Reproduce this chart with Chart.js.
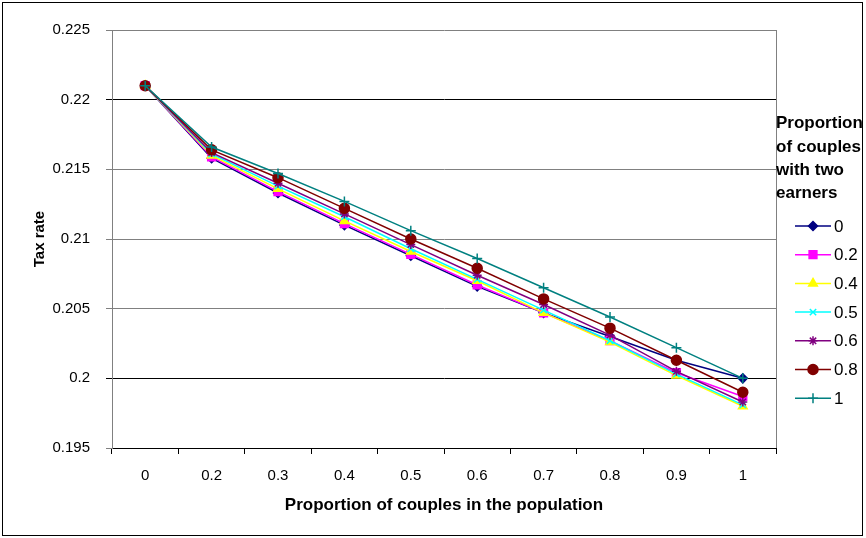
<!DOCTYPE html>
<html>
<head>
<meta charset="utf-8">
<script src="https://cdn.jsdelivr.net/npm/chart.js@4/dist/chart.umd.min.js"></script>
<style>
  html, body { margin: 0; padding: 0; background: #fff; }
  #wrap { width: 866px; height: 538px; }
</style>
</head>
<body>
<div id="wrap"><canvas id="c" width="866" height="538"></canvas></div>
<script>
// ---- Data ----
const categories = ['0', '0.2', '0.3', '0.4', '0.5', '0.6', '0.7', '0.8', '0.9', '1'];
const seriesNames = ['0', '0.2', '0.4', '0.5', '0.6', '0.8', '1'];
const yTicks = [0.195, 0.2, 0.205, 0.21, 0.215, 0.22, 0.225];

const s0  = [0.221, 0.2158, 0.2133, 0.2110, 0.2088, 0.2066, 0.2047, 0.2030, 0.2013, 0.2000];
const s02 = [0.221, 0.2159, 0.2134, 0.2111, 0.2089, 0.2067, 0.2047, 0.2027, 0.2004, 0.1987];
const s04 = [0.221, 0.2160, 0.2136, 0.2113, 0.2091, 0.2070, 0.2047, 0.2026, 0.2002, 0.1980];
const s05 = [0.221, 0.2161, 0.2138, 0.2116, 0.2093, 0.2071, 0.2049, 0.2027, 0.2003, 0.1981];
const s06 = [0.221, 0.2162, 0.2140, 0.2118, 0.2096, 0.2074, 0.2053, 0.2031, 0.2005, 0.1983];
const s08 = [0.221, 0.2164, 0.2144, 0.2122, 0.2100, 0.2079, 0.2057, 0.2036, 0.2013, 0.1990];
const s1  = [0.221, 0.2166, 0.2147, 0.2127, 0.2106, 0.2086, 0.2065, 0.2044, 0.2022, 0.2000];

const seriesValues = [s0, s02, s04, s05, s06, s08, s1];

// ---- Styles ----
const FONT = "'Liberation Sans', Arial, sans-serif";
const styles = [
  { color: '#000080', pointStyle: 'rectRot', radius: 4.5 },
  { color: '#FF00FF', pointStyle: 'rect', radius: 5.5 },
  { color: '#FFFF00', pointStyle: 'triangle', radius: 5 },
  { color: '#00FFFF', pointStyle: 'crossRot', radius: 4.5 },
  { color: '#800080', pointStyle: 'star', radius: 4.5 },
  { color: '#800000', pointStyle: 'circle', radius: 5 },
  { color: '#008080', pointStyle: 'cross', radius: 5 }
];

const datasets = seriesValues.map((vals, i) => ({
  label: seriesNames[i],
  data: vals,
  borderColor: styles[i].color,
  backgroundColor: styles[i].color,
  pointBackgroundColor: styles[i].color,
  pointBorderColor: styles[i].color,
  pointStyle: styles[i].pointStyle,
  pointRadius: styles[i].radius,
  pointBorderWidth: 1.5,
  borderWidth: 1.5,
  tension: 0,
  fill: false,
  order: seriesValues.length - i
}));

const legendTitle = ['Proportion', 'of couples', 'with two', 'earners'];

const decorPlugin = {
  id: 'decor',
  beforeDraw(chart) {
    const ctx = chart.ctx;
    ctx.save();
    ctx.fillStyle = '#ffffff';
    ctx.fillRect(0, 0, chart.width, chart.height);
    ctx.restore();
  },
  beforeDatasetsDraw(chart) {
    const ctx = chart.ctx;
    const a = chart.chartArea;
    ctx.save();
    ctx.strokeStyle = '#808080';
    ctx.lineWidth = 1;
    ctx.beginPath();
    ctx.moveTo(Math.round(a.right) + 0.5, a.top);
    ctx.lineTo(Math.round(a.right) + 0.5, a.bottom);
    ctx.stroke();
    ctx.restore();
  },
  afterDraw(chart) {
    const ctx = chart.ctx;
    ctx.save();
    // outer border
    ctx.strokeStyle = '#000000';
    ctx.lineWidth = 1;
    ctx.strokeRect(2.5, 2.5, 860, 533);
    // legend title
    ctx.fillStyle = '#000000';
    ctx.font = "bold 17px " + FONT;
    ctx.textAlign = 'left';
    ctx.textBaseline = 'middle';
    const titleY = [123, 147, 170, 193];
    legendTitle.forEach((t, i) => ctx.fillText(t, 776, titleY[i]));
    // legend items
    const helpers = Chart.helpers;
    chart.data.datasets.forEach((ds, i) => {
      const y = 226 + i * 28.7;
      ctx.strokeStyle = ds.borderColor;
      ctx.lineWidth = 1.5;
      ctx.beginPath();
      ctx.moveTo(795, y);
      ctx.lineTo(831, y);
      ctx.stroke();
      ctx.fillStyle = ds.pointBackgroundColor;
      ctx.strokeStyle = ds.pointBorderColor;
      ctx.lineWidth = 1.5;
      if (helpers && helpers.drawPoint) {
        helpers.drawPoint(ctx, { pointStyle: ds.pointStyle, radius: ds.pointRadius, rotation: 0, borderWidth: 1.5 }, 813, y);
      }
      ctx.fillStyle = '#000000';
      ctx.font = "17px " + FONT;
      ctx.textBaseline = 'middle';
      ctx.fillText(ds.label, 834, y + 1);
    });
    ctx.restore();
  }
};

new Chart(document.getElementById('c'), {
  type: 'line',
  data: { labels: categories, datasets: datasets },
  options: {
    responsive: false,
    animation: false,
    devicePixelRatio: 1,
    layout: { padding: { top: 30, right: 90, bottom: 0, left: 0 } },
    plugins: {
      legend: { display: false },
      tooltip: { enabled: false }
    },
    scales: {
      x: {
        type: 'category',
        offset: true,
        grid: {
          offset: true,
          drawOnChartArea: false,
          drawTicks: true,
          tickLength: 6,
          color: '#000000'
        },
        border: { display: true, color: '#000000', width: 1 },
        ticks: {
          color: '#000000',
          font: { family: FONT, size: 15 },
          padding: 13,
          maxRotation: 0,
          autoSkip: false
        },
        title: {
          display: true,
          text: 'Proportion of couples in the population',
          color: '#000000',
          font: { family: FONT, size: 17, weight: 'bold' },
          padding: { top: 0, bottom: 22 }
        },
        afterFit(scale) { scale.height = 90; }
      },
      y: {
        min: 0.195,
        max: 0.225,
        afterBuildTicks(scale) { scale.ticks = yTicks.map(v => ({ value: v })); },
        grid: {
          drawOnChartArea: true,
          drawTicks: true,
          tickLength: 6,
          color(ctx) {
            const v = ctx.tick ? ctx.tick.value : null;
            if (v !== null && (Math.abs(v - 0.22) < 1e-9 || Math.abs(v - 0.2) < 1e-9)) return '#000000';
            return '#808080';
          }
        },
        border: { display: true, color: '#808080', width: 1 },
        ticks: {
          color: '#000000',
          font: { family: FONT, size: 15 },
          padding: 16,
          callback(v) { return String(v); }
        },
        title: {
          display: true,
          text: 'Tax rate',
          color: '#000000',
          font: { family: FONT, size: 15, weight: 'bold' },
          padding: { top: 31, bottom: 0 }
        },
        afterFit(scale) { scale.width = 112; }
      }
    }
  },
  plugins: [decorPlugin]
});
</script>
</body>
</html>
